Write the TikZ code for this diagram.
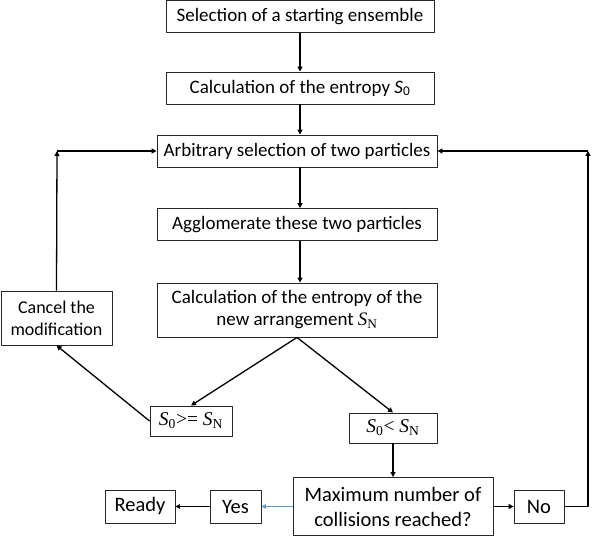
\documentclass[tikz,border=0pt]{standalone}
\usepackage{fontspec}
\setmainfont{Carlito}
\newfontfamily\timesfont{Liberation Serif}
\usetikzlibrary{arrows.meta}
\tikzset{
  box/.style={draw=black!85, line width=0.9pt, fill=white, inner sep=2pt, align=center,
    minimum height=32pt, font=\fontsize{19}{22}\selectfont},
  bigbox/.style={box, font=\fontsize{20.5}{25}\selectfont, minimum height=33pt},
  condbox/.style={box, minimum height=30pt, font=\timesfont\fontsize{19.5}{22}\selectfont},
  link/.style={line width=1.3pt, -{Triangle[length=5pt,width=5pt]}},
  thinlink/.style={line width=0.9pt, -{Triangle[length=4.5pt,width=4.5pt]}},
}
\begin{document}
\begin{tikzpicture}[x=1pt, y=-1pt, line join=round]
  \useasboundingbox (0,0) rectangle (592,537);
  % main column
  \node[box, minimum width=268pt] (sel) at (300,16.5) {Selection of a starting ensemble};
  \node[box, minimum width=268pt] (ent) at (300,88) {Calculation of the entropy \textit{S}\textsubscript{0}};
  \node[box, minimum width=280pt] (arb) at (297,151) {Arbitrary selection of two particles};
  \node[box, minimum width=280pt] (agg) at (297,224.5) {Agglomerate these two particles};
  \node[box, minimum width=280pt, minimum height=54pt] (arr) at (297,310)
    {Calculation of the entropy of the\\ new arrangement {\timesfont\textit{S}\textsubscript{N}}};
  \node[box, minimum width=111pt, minimum height=54pt, font=\fontsize{18}{22}\selectfont] (cancel) at (56.5,318)
    {Cancel the\\ modification};
  % conditions
  \node[condbox, minimum width=82pt] (ge) at (191,421)
    {\textit{S}\textsubscript{0}>= \textit{S}\textsubscript{N}};
  \node[condbox, minimum width=88pt] (lt) at (393,428)
    {\textit{S}\textsubscript{0}< \textit{S}\textsubscript{N}};
  % bottom row
  \node[bigbox, minimum width=200pt, minimum height=58pt] (max) at (393,506.5)
    {Maximum number of\\ collisions reached?};
  \node[bigbox, minimum width=50pt] (no) at (539,506.5) {No};
  \node[bigbox, minimum width=51pt] (yes) at (235.5,506.5) {Yes};
  \node[bigbox, minimum width=70pt] (ready) at (140,506.5) {Ready};
  \coordinate (cl) at (57,151);
  \coordinate (cr) at (588,151);
  \draw[link] (sel) -- (ent);
  \draw[link] (ent.south) -- (ent.south |- arb.north);
  \draw[link] (arb.south -| sel) -- (agg.north -| sel);
  \draw[link] (agg.south -| sel) -- (arr.north -| sel);
  \draw[link] (arr.south) -- (ge.north);
  \draw[link] (arr.south) -- (lt.north);
  \draw[link] (ge.west) -- (cancel.south);
  \draw[link] (cancel.north) -- (cl);
  \draw[link] (cl) -- (arb.west);
  \draw[link] (lt.south) -- (max.north);
  \draw[link] (max.east) -- (no.west);
  \draw[link] (no.east) -| (cr);
  \draw[link] (cr) -- (arb.east);
  \draw[thinlink, color={rgb,255:red,91;green,155;blue,213}] (max.west) -- (yes.east);
  \draw[thinlink] (yes.west) -- (ready.east);
\end{tikzpicture}
\end{document}
